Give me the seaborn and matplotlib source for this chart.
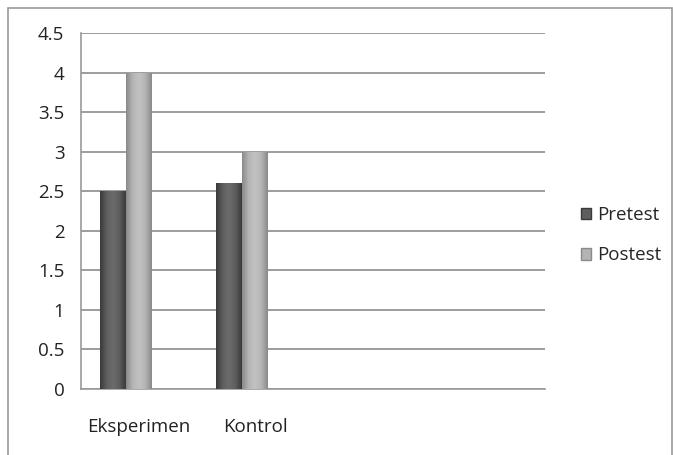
import numpy as np
import pandas as pd
import seaborn as sns
import matplotlib
matplotlib.use("Agg")
import matplotlib.pyplot as plt
from matplotlib.patches import Rectangle, Patch
from matplotlib.colors import LinearSegmentedColormap

# --------------------------------------------------------------------------
# Data
# --------------------------------------------------------------------------
groups = ["Eksperimen", "Kontrol"]
pretest = [2.5, 2.6]
postest = [4.0, 3.0]
series = ["Pretest", "Postest"]
y_ticks = [0, 0.5, 1, 1.5, 2, 2.5, 3, 3.5, 4, 4.5]

df = pd.DataFrame({
    "group": groups * 2,
    "series": [series[0]] * len(groups) + [series[1]] * len(groups),
    "value": pretest + postest,
})

# --------------------------------------------------------------------------
# Style
# --------------------------------------------------------------------------
sns.set_style("white")
plt.rcParams["font.family"] = ["Open Sans", "DejaVu Sans"]
FS = 13.5

FLAT = {"Pretest": "#555555", "Postest": "#aaaaaa", "_": "#ffffff"}
GRAD = {
    "Pretest": ["#3a3a3a", "#5e5e5e", "#6c6c6c", "#5e5e5e", "#3a3a3a"],
    "Postest": ["#8a8a8a", "#b4b4b4", "#c2c2c2", "#b4b4b4", "#8a8a8a"],
}

fig = plt.figure(figsize=(6.73, 4.55), dpi=100)
ax = fig.add_axes([0.1204, 0.1451, 0.6894, 0.7824])

# third (empty) hue level keeps Excel's three-slot spacing
sns.barplot(data=df, x="group", y="value", hue="series",
            order=groups, hue_order=series + ["_"], palette=FLAT,
            width=0.672, ax=ax, legend=False, linewidth=0)

# cylinder-like shading on each bar
bars = [p for p in ax.patches if p.get_height() > 0]
for bar in bars:
    col = bar.get_facecolor()
    name = "Pretest" if col[0] < 0.5 else "Postest"
    cmap = LinearSegmentedColormap.from_list(name, GRAD[name])
    x0, y0 = bar.get_x(), bar.get_y()
    w, h = bar.get_width(), bar.get_height()
    grad = np.linspace(0, 1, 64).reshape(1, -1)
    im = ax.imshow(grad, cmap=cmap, aspect="auto",
                   extent=(x0, x0 + w, y0, y0 + h), zorder=3)
    im.set_clip_path(bar)
    bar.set_zorder(2)

ax.set_xlim(-0.5, 3.5)
ax.set_ylim(0, 4.5)
ax.set_yticks(y_ticks)
ax.set_yticklabels([f"{v:g}" for v in y_ticks], fontsize=FS, color="#222222")
ax.set_xticks(range(len(groups)))
ax.set_xticklabels(groups, fontsize=FS, color="#222222")
ax.set_xticks(np.arange(-0.5, 4, 1.0), minor=True)
ax.tick_params(axis="x", which="major", length=0, pad=21)
ax.tick_params(axis="x", which="minor", length=5, width=1.2, color="#999999", direction="out")
ax.tick_params(axis="y", length=7, width=1.2, color="#999999", direction="out", pad=5)
ax.set_xlabel("")
ax.set_ylabel("")

ax.yaxis.grid(True, color="#8c8c8c", linewidth=1.2)
ax.set_axisbelow(True)
for s in ["top", "right"]:
    ax.spines[s].set_visible(False)
for s in ["left", "bottom"]:
    ax.spines[s].set_color("#999999")
    ax.spines[s].set_linewidth(1.2)

handles = [Patch(facecolor=GRAD[s][1], edgecolor=GRAD[s][0], linewidth=1) for s in series]
fig.legend(handles, series, loc="center left", bbox_to_anchor=(0.838, 0.483),
           frameon=False, fontsize=FS, handlelength=0.55, handleheight=0.55,
           handletextpad=0.3, labelspacing=1.2)

# outer chart border
fig.patches.append(Rectangle((0.012, -0.01), 0.986, 0.993, transform=fig.transFigure,
                             fill=False, edgecolor="#999999", linewidth=1.2))

fig.savefig("out.png", dpi=100)
